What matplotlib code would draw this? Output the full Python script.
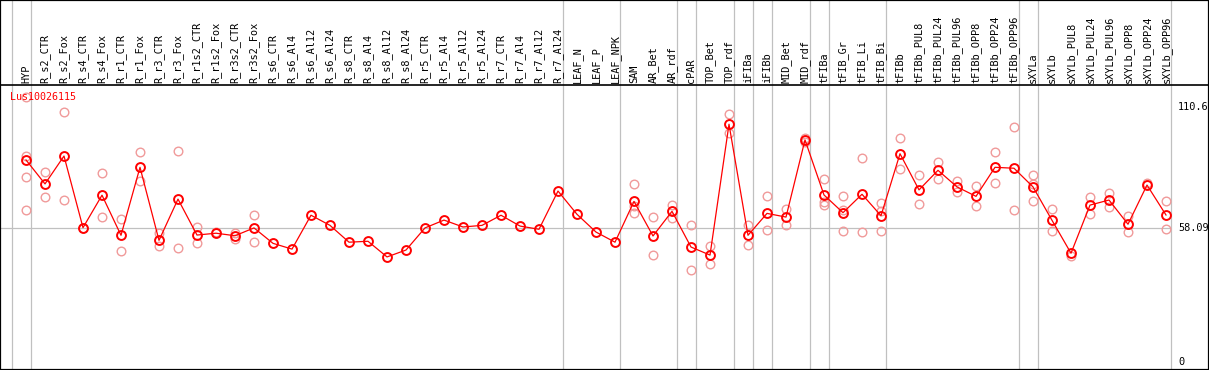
import matplotlib
matplotlib.use("Agg")
import matplotlib.pyplot as plt

# ── Data ──────────────────────────────────────────────────────────────────────
GENE = "Lus10026115"

categories = [
    "HYP", "R_s2_CTR", "R_s2_Fox", "R_s4_CTR", "R_s4_Fox", "R_r1_CTR", "R_r1_Fox",
    "R_r3_CTR", "R_r3_Fox", "R_r1s2_CTR", "R_r1s2_Fox", "R_r3s2_CTR", "R_r3s2_Fox",
    "R_s6_CTR", "R_s6_Al4", "R_s6_Al12", "R_s6_Al24", "R_s8_CTR", "R_s8_Al4",
    "R_s8_Al12", "R_s8_Al24", "R_r5_CTR", "R_r5_Al4", "R_r5_Al12", "R_r5_Al24",
    "R_r7_CTR", "R_r7_Al4", "R_r7_Al12", "R_r7_Al24", "LEAF_N", "LEAF_P", "LEAF_NPK",
    "SAM", "AR_Bet", "AR_rdf", "cPAR", "TOP_Bet", "TOP_rdf", "iFIBa", "iFIBb",
    "MID_Bet", "MID_rdf", "tFIBa", "tFIB_Gr", "tFIB_Li", "tFIB_Bi", "tFIBb",
    "tFIBb_PUL8", "tFIBb_PUL24", "tFIBb_PUL96", "tFIBb_OPP8", "tFIBb_OPP24",
    "tFIBb_OPP96", "sXYLa", "sXYLb", "sXYLb_PUL8", "sXYLb_PUL24", "sXYLb_PUL96",
    "sXYLb_OPP8", "sXYLb_OPP24", "sXYLb_OPP96",
]

mean_vals = [
    87.7, 77.3, 89.4, 58.3, 72.4, 55.0, 84.5, 52.8, 70.7, 55.1, 55.9, 54.8, 58.2,
    51.5, 49.0, 63.7, 59.3, 52.0, 52.4, 45.6, 48.6, 58.2, 61.6, 58.6, 59.3, 63.7,
    59.0, 57.6, 74.2, 64.1, 56.4, 52.0, 69.7, 54.7, 65.4, 49.9, 46.4, 103.2, 55.0,
    64.5, 62.9, 96.4, 72.5, 64.8, 72.8, 63.5, 90.4, 74.7, 83.2, 76.0, 71.9, 84.5,
    84.1, 76.0, 61.5, 47.2, 68.1, 70.3, 59.8, 76.8, 63.8,
]

rep_vals = [
    [115.0, 89.5, 80.2, 66.0], [82.3, 71.5], [108.4, 70.3], [58.3], [81.9, 62.8],
    [61.9, 48.0], [91.0, 78.4], [56.1, 50.2], [91.6, 49.3], [58.6, 51.6], [56.3],
    [55.9, 53.4], [63.7, 52.0],
    [], [], [], [], [], [], [], [], [], [], [], [], [], [], [], [], [], [], [],
    [77.1, 67.7, 64.5], [62.8, 46.4], [68.1, 62.6], [59.5, 39.8], [50.3, 42.4],
    [107.6, 99.3], [59.5, 50.8], [71.9, 57.3], [66.3, 59.6], [97.1, 95.6],
    [79.3, 69.6, 68.1], [71.9, 66.0, 56.7], [88.4, 56.3], [68.9, 65.4, 56.9],
    [97.1, 83.7], [81.0, 68.4], [86.9, 79.3], [78.7, 73.7], [76.3, 67.6],
    [91.0, 77.6], [102.0, 66.0], [81.0, 77.1, 69.7], [66.4, 56.7], [46.1],
    [71.6, 64.1], [73.4, 67.1], [63.4, 56.3], [77.6], [69.9, 57.6],
]

# groups end after these category indices (-1 = left edge)
group_ends = [-1, 0, 28, 31, 34, 35, 37, 38, 39, 41, 42, 45, 52, 53, 60]

y_marks = [110.6, 58.09, 0]
y_labels = ["110.6", "58.09", "0"]

RED = "#ff0000"
PINK = "#f09a9a"
GRID = "#c0c0c0"
MONO = "DejaVu Sans Mono"

# ── Figure (1 data unit = 19 px in x, 2.304 px in y) ─────────────────────────
W, H = 1209, 370
fig = plt.figure(figsize=(W / 100, H / 100), dpi=100)
ax = fig.add_axes([0, 0, 1, 1])
x0 = -26 / 19
y0 = -8 / 2.304
ax.set_xlim(x0, x0 + W / 19)
ax.set_ylim(y0, y0 + H / 2.304)
ax.set_xticks([])
ax.set_yticks([])
for sp in ax.spines.values():
    sp.set_edgecolor("black")
    sp.set_linewidth(1.6)

top_band = (362 - 85) / 2.304
x_right = x0 + 1170 / 19

for g in group_ends:
    ax.axvline(g + 0.24, color=GRID, linewidth=0.9, zorder=1)
ax.plot([x0, x_right], [58.09, 58.09], color=GRID, linewidth=0.9, zorder=1)
ax.axhline(top_band, color="black", linewidth=1.2, zorder=2)

# replicates
for i, reps in enumerate(rep_vals):
    if reps:
        ax.plot([i] * len(reps), reps, linestyle="none", marker="o",
                markersize=6.2, markerfacecolor="none", markeredgecolor=PINK,
                markeredgewidth=1.0, zorder=3)

xs = list(range(len(categories)))
ax.plot(xs, mean_vals, color=RED, linewidth=0.9, marker="o", markersize=6.4,
        markerfacecolor="none", markeredgecolor=RED, markeredgewidth=1.4, zorder=4)

for i, name in enumerate(categories):
    ax.text(i, (362 - 83) / 2.304, name, rotation=90, ha="center", va="bottom",
            family=MONO, fontsize=7.4, color="black")

ax.text(x0 + 10 / 19, (362 - 97) / 2.304, GENE, ha="left", va="center",
        family=MONO, fontsize=7.2, color=RED, zorder=5)

for v, lab in zip(y_marks, y_labels):
    ax.text(x0 + 1178 / 19, v, lab, ha="left", va="center",
            family=MONO, fontsize=7.4, color="black")

fig.savefig("out.png", dpi=100)
